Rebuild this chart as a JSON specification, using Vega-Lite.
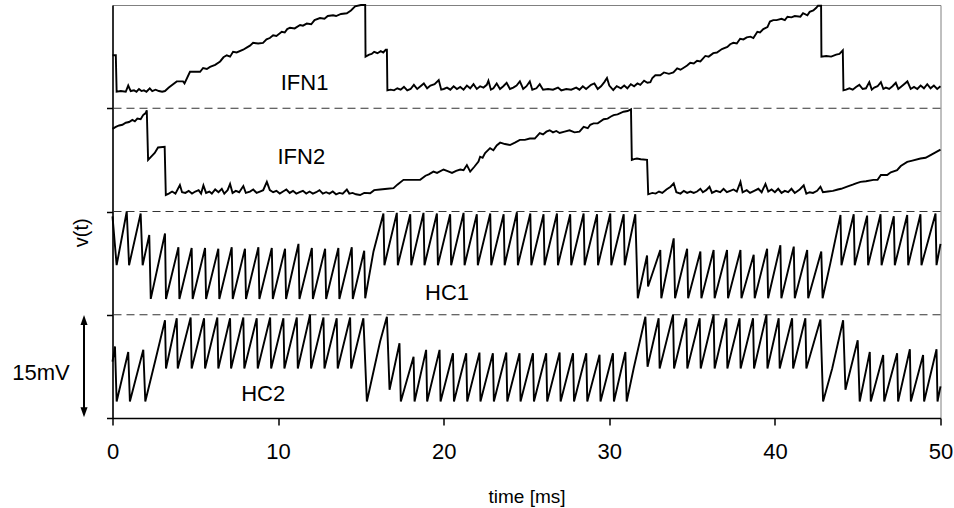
{
"$schema": "https://vega.github.io/schema/vega-lite/v6.json",
"width": 828, "height": 413,
"autosize": {"type": "none"},
"padding": {"left": 112.5, "top": 5, "right": 13.5, "bottom": 90},
"background": "white",
"config": {"view": {"stroke": "#808080", "strokeWidth": 1}, "font": "Liberation Sans"},
"datasets": {
"traces": [
{"s":"IFN1","t":0,"v":52.7},{"s":"IFN1","t":0.2,"v":52.7},{"s":"IFN1","t":0.25,"v":47.4},{"s":"IFN1","t":0.5,"v":47.5},{"s":"IFN1","t":0.8,"v":47.4},{"s":"IFN1","t":0.95,"v":48.3},{"s":"IFN1","t":1.1,"v":47.5},{"s":"IFN1","t":1.3,"v":47.6},{"s":"IFN1","t":1.45,"v":47.4},{"s":"IFN1","t":1.6,"v":47.8},{"s":"IFN1","t":1.75,"v":47.5},{"s":"IFN1","t":1.9,"v":47.6},{"s":"IFN1","t":2.05,"v":47.4},{"s":"IFN1","t":2.25,"v":47.9},{"s":"IFN1","t":2.4,"v":47.5},{"s":"IFN1","t":2.6,"v":47.7},{"s":"IFN1","t":2.8,"v":47.5},{"s":"IFN1","t":3.0,"v":47.4},{"s":"IFN1","t":3.17,"v":47.5},{"s":"IFN1","t":3.4,"v":48.0},{"s":"IFN1","t":3.88,"v":48.9},{"s":"IFN1","t":4.26,"v":48.9},{"s":"IFN1","t":4.35,"v":48.6},{"s":"IFN1","t":4.68,"v":50.3},{"s":"IFN1","t":5.29,"v":50.3},{"s":"IFN1","t":5.47,"v":50.85},{"s":"IFN1","t":5.7,"v":50.7},{"s":"IFN1","t":5.89,"v":51.0},{"s":"IFN1","t":6.2,"v":51.3},{"s":"IFN1","t":6.5,"v":51.8},{"s":"IFN1","t":6.7,"v":52.4},{"s":"IFN1","t":6.9,"v":52.7},{"s":"IFN1","t":7.1,"v":52.5},{"s":"IFN1","t":7.28,"v":53.2},{"s":"IFN1","t":7.5,"v":53.1},{"s":"IFN1","t":7.89,"v":53.5},{"s":"IFN1","t":8.1,"v":53.8},{"s":"IFN1","t":8.3,"v":54.1},{"s":"IFN1","t":8.49,"v":54.5},{"s":"IFN1","t":8.8,"v":54.4},{"s":"IFN1","t":9.09,"v":54.5},{"s":"IFN1","t":9.3,"v":55.0},{"s":"IFN1","t":9.5,"v":55.2},{"s":"IFN1","t":9.7,"v":55.6},{"s":"IFN1","t":9.9,"v":55.5},{"s":"IFN1","t":10.22,"v":56.1},{"s":"IFN1","t":10.4,"v":56.0},{"s":"IFN1","t":10.55,"v":56.5},{"s":"IFN1","t":10.72,"v":56.7},{"s":"IFN1","t":11.0,"v":56.6},{"s":"IFN1","t":11.33,"v":57.1},{"s":"IFN1","t":11.5,"v":57.0},{"s":"IFN1","t":11.73,"v":57.3},{"s":"IFN1","t":12.0,"v":57.2},{"s":"IFN1","t":12.2,"v":57.8},{"s":"IFN1","t":12.53,"v":58.1},{"s":"IFN1","t":12.8,"v":58.0},{"s":"IFN1","t":13.0,"v":58.4},{"s":"IFN1","t":13.32,"v":58.5},{"s":"IFN1","t":13.5,"v":58.4},{"s":"IFN1","t":13.8,"v":58.7},{"s":"IFN1","t":14.15,"v":58.8},{"s":"IFN1","t":14.4,"v":59.2},{"s":"IFN1","t":14.65,"v":59.8},{"s":"IFN1","t":15.0,"v":60.0},{"s":"IFN1","t":15.26,"v":60.0},{"s":"IFN1","t":15.28,"v":52.5},{"s":"IFN1","t":15.5,"v":52.8},{"s":"IFN1","t":15.65,"v":52.9},{"s":"IFN1","t":15.8,"v":53.2},{"s":"IFN1","t":16.0,"v":53.0},{"s":"IFN1","t":16.2,"v":53.3},{"s":"IFN1","t":16.35,"v":53.1},{"s":"IFN1","t":16.5,"v":53.5},{"s":"IFN1","t":16.57,"v":53.5},{"s":"IFN1","t":16.6,"v":47.6},{"s":"IFN1","t":16.8,"v":47.7},{"s":"IFN1","t":17.0,"v":47.6},{"s":"IFN1","t":17.2,"v":47.9},{"s":"IFN1","t":17.4,"v":47.7},{"s":"IFN1","t":17.6,"v":48.1},{"s":"IFN1","t":17.8,"v":47.6},{"s":"IFN1","t":18.0,"v":47.8},{"s":"IFN1","t":18.2,"v":48.4},{"s":"IFN1","t":18.4,"v":47.8},{"s":"IFN1","t":18.6,"v":48.2},{"s":"IFN1","t":18.8,"v":48.6},{"s":"IFN1","t":19.0,"v":47.9},{"s":"IFN1","t":19.2,"v":48.3},{"s":"IFN1","t":19.45,"v":48.5},{"s":"IFN1","t":19.7,"v":49.1},{"s":"IFN1","t":19.85,"v":47.7},{"s":"IFN1","t":20.0,"v":47.8},{"s":"IFN1","t":20.2,"v":48.0},{"s":"IFN1","t":20.4,"v":47.7},{"s":"IFN1","t":20.6,"v":48.2},{"s":"IFN1","t":20.8,"v":47.8},{"s":"IFN1","t":21.0,"v":48.1},{"s":"IFN1","t":21.2,"v":47.7},{"s":"IFN1","t":21.4,"v":48.3},{"s":"IFN1","t":21.6,"v":47.9},{"s":"IFN1","t":21.8,"v":48.5},{"s":"IFN1","t":22.0,"v":47.8},{"s":"IFN1","t":22.2,"v":48.2},{"s":"IFN1","t":22.4,"v":48.0},{"s":"IFN1","t":22.6,"v":48.4},{"s":"IFN1","t":22.7,"v":49.0},{"s":"IFN1","t":22.85,"v":47.7},{"s":"IFN1","t":23.0,"v":47.9},{"s":"IFN1","t":23.2,"v":48.6},{"s":"IFN1","t":23.4,"v":47.8},{"s":"IFN1","t":23.6,"v":48.2},{"s":"IFN1","t":23.8,"v":48.7},{"s":"IFN1","t":24.0,"v":47.8},{"s":"IFN1","t":24.2,"v":48.0},{"s":"IFN1","t":24.4,"v":48.3},{"s":"IFN1","t":24.6,"v":48.9},{"s":"IFN1","t":24.8,"v":47.8},{"s":"IFN1","t":25.0,"v":48.2},{"s":"IFN1","t":25.2,"v":48.9},{"s":"IFN1","t":25.35,"v":47.7},{"s":"IFN1","t":25.6,"v":47.9},{"s":"IFN1","t":25.8,"v":48.5},{"s":"IFN1","t":26.0,"v":47.7},{"s":"IFN1","t":26.3,"v":47.8},{"s":"IFN1","t":26.6,"v":47.7},{"s":"IFN1","t":26.9,"v":48.0},{"s":"IFN1","t":27.1,"v":47.6},{"s":"IFN1","t":27.4,"v":47.8},{"s":"IFN1","t":27.7,"v":47.7},{"s":"IFN1","t":28.0,"v":48.0},{"s":"IFN1","t":28.2,"v":47.7},{"s":"IFN1","t":28.4,"v":48.2},{"s":"IFN1","t":28.6,"v":47.8},{"s":"IFN1","t":28.9,"v":48.4},{"s":"IFN1","t":29.1,"v":48.6},{"s":"IFN1","t":29.3,"v":47.8},{"s":"IFN1","t":29.5,"v":48.2},{"s":"IFN1","t":29.7,"v":48.8},{"s":"IFN1","t":29.86,"v":49.4},{"s":"IFN1","t":30.0,"v":48.3},{"s":"IFN1","t":30.24,"v":47.65},{"s":"IFN1","t":30.45,"v":48.2},{"s":"IFN1","t":30.7,"v":47.9},{"s":"IFN1","t":30.9,"v":48.3},{"s":"IFN1","t":31.09,"v":47.9},{"s":"IFN1","t":31.3,"v":48.5},{"s":"IFN1","t":31.5,"v":48.2},{"s":"IFN1","t":31.7,"v":48.6},{"s":"IFN1","t":31.87,"v":48.4},{"s":"IFN1","t":32.1,"v":49.0},{"s":"IFN1","t":32.3,"v":48.7},{"s":"IFN1","t":32.48,"v":48.8},{"s":"IFN1","t":32.6,"v":49.4},{"s":"IFN1","t":32.78,"v":49.8},{"s":"IFN1","t":33.08,"v":49.8},{"s":"IFN1","t":33.3,"v":50.2},{"s":"IFN1","t":33.6,"v":50.0},{"s":"IFN1","t":33.87,"v":50.2},{"s":"IFN1","t":34.1,"v":50.8},{"s":"IFN1","t":34.3,"v":50.6},{"s":"IFN1","t":34.47,"v":50.85},{"s":"IFN1","t":34.7,"v":51.2},{"s":"IFN1","t":34.89,"v":51.6},{"s":"IFN1","t":35.1,"v":51.5},{"s":"IFN1","t":35.3,"v":51.9},{"s":"IFN1","t":35.5,"v":51.8},{"s":"IFN1","t":35.8,"v":52.6},{"s":"IFN1","t":36.0,"v":52.5},{"s":"IFN1","t":36.28,"v":53.0},{"s":"IFN1","t":36.5,"v":53.1},{"s":"IFN1","t":36.8,"v":53.6},{"s":"IFN1","t":37.13,"v":53.9},{"s":"IFN1","t":37.3,"v":54.3},{"s":"IFN1","t":37.49,"v":54.5},{"s":"IFN1","t":37.7,"v":54.4},{"s":"IFN1","t":37.9,"v":55.1},{"s":"IFN1","t":38.1,"v":55.0},{"s":"IFN1","t":38.3,"v":55.3},{"s":"IFN1","t":38.52,"v":55.4},{"s":"IFN1","t":38.7,"v":55.2},{"s":"IFN1","t":38.94,"v":56.1},{"s":"IFN1","t":39.1,"v":56.0},{"s":"IFN1","t":39.3,"v":56.5},{"s":"IFN1","t":39.55,"v":56.8},{"s":"IFN1","t":39.7,"v":57.6},{"s":"IFN1","t":39.9,"v":57.8},{"s":"IFN1","t":40.1,"v":57.8},{"s":"IFN1","t":40.4,"v":58.0},{"s":"IFN1","t":40.6,"v":57.8},{"s":"IFN1","t":40.76,"v":58.3},{"s":"IFN1","t":41.0,"v":58.2},{"s":"IFN1","t":41.2,"v":58.4},{"s":"IFN1","t":41.54,"v":58.3},{"s":"IFN1","t":41.7,"v":58.8},{"s":"IFN1","t":41.96,"v":58.5},{"s":"IFN1","t":42.1,"v":59.0},{"s":"IFN1","t":42.32,"v":59.2},{"s":"IFN1","t":42.5,"v":59.6},{"s":"IFN1","t":42.6,"v":59.9},{"s":"IFN1","t":42.79,"v":59.9},{"s":"IFN1","t":42.81,"v":52.5},{"s":"IFN1","t":43.1,"v":52.6},{"s":"IFN1","t":43.4,"v":52.5},{"s":"IFN1","t":43.7,"v":52.8},{"s":"IFN1","t":43.9,"v":52.9},{"s":"IFN1","t":44.1,"v":53.4},{"s":"IFN1","t":44.14,"v":47.6},{"s":"IFN1","t":44.3,"v":47.7},{"s":"IFN1","t":44.5,"v":47.9},{"s":"IFN1","t":44.7,"v":47.7},{"s":"IFN1","t":44.9,"v":48.1},{"s":"IFN1","t":45.1,"v":48.4},{"s":"IFN1","t":45.3,"v":47.8},{"s":"IFN1","t":45.5,"v":47.9},{"s":"IFN1","t":45.7,"v":48.8},{"s":"IFN1","t":45.85,"v":47.7},{"s":"IFN1","t":46.0,"v":48.0},{"s":"IFN1","t":46.2,"v":48.2},{"s":"IFN1","t":46.4,"v":48.8},{"s":"IFN1","t":46.55,"v":47.8},{"s":"IFN1","t":46.7,"v":48.0},{"s":"IFN1","t":46.9,"v":47.8},{"s":"IFN1","t":47.1,"v":48.2},{"s":"IFN1","t":47.3,"v":48.7},{"s":"IFN1","t":47.45,"v":47.8},{"s":"IFN1","t":47.6,"v":48.1},{"s":"IFN1","t":47.8,"v":48.5},{"s":"IFN1","t":48.0,"v":48.9},{"s":"IFN1","t":48.2,"v":47.8},{"s":"IFN1","t":48.4,"v":48.1},{"s":"IFN1","t":48.6,"v":47.8},{"s":"IFN1","t":48.8,"v":48.3},{"s":"IFN1","t":49.0,"v":47.9},{"s":"IFN1","t":49.2,"v":48.5},{"s":"IFN1","t":49.4,"v":47.9},{"s":"IFN1","t":49.6,"v":48.3},{"s":"IFN1","t":49.8,"v":47.8},{"s":"IFN1","t":50.0,"v":48.2},
{"s":"IFN2","t":0,"v":42.0},{"s":"IFN2","t":0.2,"v":42.3},{"s":"IFN2","t":0.4,"v":42.5},{"s":"IFN2","t":0.6,"v":42.6},{"s":"IFN2","t":0.8,"v":42.9},{"s":"IFN2","t":1.0,"v":43.0},{"s":"IFN2","t":1.2,"v":43.3},{"s":"IFN2","t":1.35,"v":43.1},{"s":"IFN2","t":1.5,"v":43.5},{"s":"IFN2","t":1.7,"v":43.4},{"s":"IFN2","t":1.85,"v":44.0},{"s":"IFN2","t":2.0,"v":44.3},{"s":"IFN2","t":2.07,"v":44.7},{"s":"IFN2","t":2.15,"v":37.5},{"s":"IFN2","t":2.35,"v":38.0},{"s":"IFN2","t":2.55,"v":38.5},{"s":"IFN2","t":2.75,"v":39.3},{"s":"IFN2","t":3.15,"v":39.4},{"s":"IFN2","t":3.22,"v":32.4},{"s":"IFN2","t":3.4,"v":32.6},{"s":"IFN2","t":3.6,"v":32.9},{"s":"IFN2","t":3.8,"v":32.6},{"s":"IFN2","t":4.07,"v":33.85},{"s":"IFN2","t":4.2,"v":32.8},{"s":"IFN2","t":4.4,"v":32.7},{"s":"IFN2","t":4.6,"v":33.0},{"s":"IFN2","t":4.8,"v":32.6},{"s":"IFN2","t":5.0,"v":32.9},{"s":"IFN2","t":5.2,"v":33.1},{"s":"IFN2","t":5.35,"v":32.6},{"s":"IFN2","t":5.49,"v":33.8},{"s":"IFN2","t":5.65,"v":32.7},{"s":"IFN2","t":5.85,"v":32.9},{"s":"IFN2","t":6.0,"v":32.6},{"s":"IFN2","t":6.2,"v":33.2},{"s":"IFN2","t":6.4,"v":32.8},{"s":"IFN2","t":6.6,"v":33.3},{"s":"IFN2","t":6.75,"v":32.6},{"s":"IFN2","t":6.95,"v":33.1},{"s":"IFN2","t":7.1,"v":34.0},{"s":"IFN2","t":7.25,"v":32.7},{"s":"IFN2","t":7.45,"v":33.0},{"s":"IFN2","t":7.65,"v":32.8},{"s":"IFN2","t":7.9,"v":33.7},{"s":"IFN2","t":8.05,"v":32.7},{"s":"IFN2","t":8.3,"v":32.9},{"s":"IFN2","t":8.5,"v":33.2},{"s":"IFN2","t":8.7,"v":32.7},{"s":"IFN2","t":8.9,"v":32.9},{"s":"IFN2","t":9.1,"v":33.1},{"s":"IFN2","t":9.32,"v":34.3},{"s":"IFN2","t":9.5,"v":33.1},{"s":"IFN2","t":9.7,"v":32.8},{"s":"IFN2","t":9.9,"v":33.0},{"s":"IFN2","t":10.1,"v":32.6},{"s":"IFN2","t":10.3,"v":32.9},{"s":"IFN2","t":10.5,"v":33.2},{"s":"IFN2","t":10.7,"v":32.7},{"s":"IFN2","t":10.9,"v":33.0},{"s":"IFN2","t":11.1,"v":32.6},{"s":"IFN2","t":11.3,"v":32.8},{"s":"IFN2","t":11.5,"v":33.0},{"s":"IFN2","t":11.7,"v":32.6},{"s":"IFN2","t":11.9,"v":32.9},{"s":"IFN2","t":12.1,"v":32.6},{"s":"IFN2","t":12.3,"v":32.8},{"s":"IFN2","t":12.5,"v":33.1},{"s":"IFN2","t":12.7,"v":32.6},{"s":"IFN2","t":12.9,"v":32.8},{"s":"IFN2","t":13.1,"v":32.6},{"s":"IFN2","t":13.3,"v":32.9},{"s":"IFN2","t":13.5,"v":32.5},{"s":"IFN2","t":13.7,"v":32.7},{"s":"IFN2","t":13.9,"v":32.6},{"s":"IFN2","t":14.15,"v":33.2},{"s":"IFN2","t":14.3,"v":32.6},{"s":"IFN2","t":14.5,"v":32.7},{"s":"IFN2","t":14.7,"v":32.5},{"s":"IFN2","t":14.95,"v":32.4},{"s":"IFN2","t":15.2,"v":32.7},{"s":"IFN2","t":15.56,"v":32.65},{"s":"IFN2","t":15.8,"v":33.1},{"s":"IFN2","t":16.16,"v":33.2},{"s":"IFN2","t":16.6,"v":33.3},{"s":"IFN2","t":16.97,"v":33.4},{"s":"IFN2","t":17.2,"v":33.9},{"s":"IFN2","t":17.57,"v":34.6},{"s":"IFN2","t":18.0,"v":34.6},{"s":"IFN2","t":18.58,"v":34.6},{"s":"IFN2","t":18.9,"v":35.2},{"s":"IFN2","t":19.1,"v":35.4},{"s":"IFN2","t":19.38,"v":35.8},{"s":"IFN2","t":19.6,"v":35.6},{"s":"IFN2","t":19.99,"v":36.1},{"s":"IFN2","t":20.2,"v":35.9},{"s":"IFN2","t":20.5,"v":35.6},{"s":"IFN2","t":20.75,"v":35.9},{"s":"IFN2","t":21.0,"v":36.1},{"s":"IFN2","t":21.2,"v":36.0},{"s":"IFN2","t":21.4,"v":36.75},{"s":"IFN2","t":21.6,"v":35.8},{"s":"IFN2","t":21.85,"v":36.5},{"s":"IFN2","t":22.1,"v":37.25},{"s":"IFN2","t":22.2,"v":37.96},{"s":"IFN2","t":22.35,"v":37.8},{"s":"IFN2","t":22.5,"v":38.5},{"s":"IFN2","t":22.8,"v":39.2},{"s":"IFN2","t":23.0,"v":38.9},{"s":"IFN2","t":23.2,"v":39.6},{"s":"IFN2","t":23.41,"v":40.0},{"s":"IFN2","t":23.7,"v":39.8},{"s":"IFN2","t":24.0,"v":39.66},{"s":"IFN2","t":24.3,"v":40.0},{"s":"IFN2","t":24.6,"v":40.4},{"s":"IFN2","t":24.9,"v":40.4},{"s":"IFN2","t":25.2,"v":40.6},{"s":"IFN2","t":25.5,"v":40.6},{"s":"IFN2","t":25.8,"v":41.4},{"s":"IFN2","t":26.0,"v":41.2},{"s":"IFN2","t":26.2,"v":41.6},{"s":"IFN2","t":26.4,"v":41.8},{"s":"IFN2","t":26.6,"v":41.5},{"s":"IFN2","t":26.8,"v":41.7},{"s":"IFN2","t":27.0,"v":41.4},{"s":"IFN2","t":27.3,"v":41.6},{"s":"IFN2","t":27.6,"v":41.8},{"s":"IFN2","t":27.9,"v":41.5},{"s":"IFN2","t":28.2,"v":41.6},{"s":"IFN2","t":28.45,"v":42.3},{"s":"IFN2","t":28.7,"v":42.1},{"s":"IFN2","t":28.85,"v":42.6},{"s":"IFN2","t":29.05,"v":42.8},{"s":"IFN2","t":29.3,"v":42.8},{"s":"IFN2","t":29.66,"v":43.4},{"s":"IFN2","t":29.9,"v":43.5},{"s":"IFN2","t":30.1,"v":43.8},{"s":"IFN2","t":30.26,"v":44.0},{"s":"IFN2","t":30.5,"v":44.1},{"s":"IFN2","t":30.86,"v":44.5},{"s":"IFN2","t":31.1,"v":44.6},{"s":"IFN2","t":31.31,"v":44.85},{"s":"IFN2","t":31.36,"v":37.5},{"s":"IFN2","t":31.5,"v":37.6},{"s":"IFN2","t":31.67,"v":37.7},{"s":"IFN2","t":31.9,"v":37.6},{"s":"IFN2","t":32.28,"v":37.5},{"s":"IFN2","t":32.35,"v":32.5},{"s":"IFN2","t":32.6,"v":32.7},{"s":"IFN2","t":32.8,"v":32.6},{"s":"IFN2","t":33.0,"v":32.9},{"s":"IFN2","t":33.2,"v":32.7},{"s":"IFN2","t":33.45,"v":33.2},{"s":"IFN2","t":33.7,"v":33.6},{"s":"IFN2","t":33.89,"v":34.1},{"s":"IFN2","t":34.05,"v":32.8},{"s":"IFN2","t":34.3,"v":32.6},{"s":"IFN2","t":34.5,"v":33.0},{"s":"IFN2","t":34.7,"v":32.7},{"s":"IFN2","t":34.9,"v":32.9},{"s":"IFN2","t":35.1,"v":32.7},{"s":"IFN2","t":35.3,"v":32.9},{"s":"IFN2","t":35.5,"v":33.3},{"s":"IFN2","t":35.65,"v":32.8},{"s":"IFN2","t":35.85,"v":33.1},{"s":"IFN2","t":36.05,"v":33.6},{"s":"IFN2","t":36.2,"v":32.7},{"s":"IFN2","t":36.45,"v":33.0},{"s":"IFN2","t":36.7,"v":32.8},{"s":"IFN2","t":36.9,"v":33.3},{"s":"IFN2","t":37.1,"v":32.8},{"s":"IFN2","t":37.3,"v":33.0},{"s":"IFN2","t":37.5,"v":33.2},{"s":"IFN2","t":37.7,"v":32.9},{"s":"IFN2","t":37.92,"v":34.3},{"s":"IFN2","t":38.05,"v":32.8},{"s":"IFN2","t":38.3,"v":33.1},{"s":"IFN2","t":38.5,"v":32.7},{"s":"IFN2","t":38.75,"v":33.0},{"s":"IFN2","t":39.0,"v":33.3},{"s":"IFN2","t":39.2,"v":32.8},{"s":"IFN2","t":39.43,"v":34.0},{"s":"IFN2","t":39.6,"v":32.9},{"s":"IFN2","t":39.8,"v":33.2},{"s":"IFN2","t":40.0,"v":32.8},{"s":"IFN2","t":40.2,"v":33.3},{"s":"IFN2","t":40.4,"v":32.7},{"s":"IFN2","t":40.6,"v":33.0},{"s":"IFN2","t":40.8,"v":32.8},{"s":"IFN2","t":41.0,"v":33.3},{"s":"IFN2","t":41.2,"v":32.7},{"s":"IFN2","t":41.5,"v":33.2},{"s":"IFN2","t":41.74,"v":33.8},{"s":"IFN2","t":41.9,"v":32.6},{"s":"IFN2","t":42.1,"v":32.8},{"s":"IFN2","t":42.3,"v":32.7},{"s":"IFN2","t":42.55,"v":33.0},{"s":"IFN2","t":42.75,"v":33.6},{"s":"IFN2","t":42.9,"v":32.8},{"s":"IFN2","t":43.2,"v":32.9},{"s":"IFN2","t":43.5,"v":33.0},{"s":"IFN2","t":43.8,"v":33.2},{"s":"IFN2","t":44.0,"v":33.3},{"s":"IFN2","t":44.36,"v":33.6},{"s":"IFN2","t":44.7,"v":33.9},{"s":"IFN2","t":44.9,"v":34.1},{"s":"IFN2","t":45.17,"v":34.3},{"s":"IFN2","t":45.5,"v":34.4},{"s":"IFN2","t":45.95,"v":34.6},{"s":"IFN2","t":46.2,"v":34.6},{"s":"IFN2","t":46.4,"v":35.3},{"s":"IFN2","t":46.78,"v":35.3},{"s":"IFN2","t":47.0,"v":35.7},{"s":"IFN2","t":47.38,"v":36.0},{"s":"IFN2","t":47.6,"v":36.6},{"s":"IFN2","t":47.99,"v":37.2},{"s":"IFN2","t":48.3,"v":37.4},{"s":"IFN2","t":48.79,"v":37.7},{"s":"IFN2","t":49.1,"v":37.8},{"s":"IFN2","t":49.4,"v":38.2},{"s":"IFN2","t":49.7,"v":38.6},{"s":"IFN2","t":50.0,"v":39.0},
{"s":"HC1","t":0,"v":29.3},{"s":"HC1","t":0.25,"v":22.2},{"s":"HC1","t":0.86,"v":30.0},{"s":"HC1","t":1.0,"v":22.2},{"s":"HC1","t":1.7,"v":29.7},{"s":"HC1","t":1.82,"v":22.2},{"s":"HC1","t":2.22,"v":26.6},{"s":"HC1","t":2.31,"v":17.3},{"s":"HC1","t":3.17,"v":26.8},{"s":"HC1","t":3.23,"v":17.3},{"s":"HC1","t":3.98,"v":24.8},{"s":"HC1","t":4.04,"v":17.3},{"s":"HC1","t":4.78,"v":24.7},{"s":"HC1","t":4.84,"v":17.3},{"s":"HC1","t":5.59,"v":24.7},{"s":"HC1","t":5.65,"v":17.3},{"s":"HC1","t":6.39,"v":24.6},{"s":"HC1","t":6.45,"v":17.3},{"s":"HC1","t":7.2,"v":24.8},{"s":"HC1","t":7.26,"v":17.3},{"s":"HC1","t":8.0,"v":24.6},{"s":"HC1","t":8.06,"v":17.3},{"s":"HC1","t":8.81,"v":24.8},{"s":"HC1","t":8.87,"v":17.3},{"s":"HC1","t":9.62,"v":24.7},{"s":"HC1","t":9.68,"v":17.3},{"s":"HC1","t":10.42,"v":24.6},{"s":"HC1","t":10.48,"v":17.3},{"s":"HC1","t":11.23,"v":25.3},{"s":"HC1","t":11.29,"v":17.3},{"s":"HC1","t":12.04,"v":24.7},{"s":"HC1","t":12.1,"v":17.3},{"s":"HC1","t":12.84,"v":24.6},{"s":"HC1","t":12.9,"v":17.3},{"s":"HC1","t":13.64,"v":24.7},{"s":"HC1","t":13.7,"v":17.3},{"s":"HC1","t":14.45,"v":24.8},{"s":"HC1","t":14.51,"v":17.3},{"s":"HC1","t":15.2,"v":24.3},{"s":"HC1","t":15.26,"v":17.4},{"s":"HC1","t":15.76,"v":24.2},{"s":"HC1","t":16.36,"v":29.7},{"s":"HC1","t":16.42,"v":22.2},{"s":"HC1","t":17.17,"v":29.8},{"s":"HC1","t":17.23,"v":22.2},{"s":"HC1","t":17.98,"v":29.6},{"s":"HC1","t":18.04,"v":22.2},{"s":"HC1","t":18.78,"v":29.8},{"s":"HC1","t":18.84,"v":22.2},{"s":"HC1","t":19.59,"v":29.7},{"s":"HC1","t":19.65,"v":22.2},{"s":"HC1","t":20.39,"v":29.6},{"s":"HC1","t":20.45,"v":22.2},{"s":"HC1","t":21.2,"v":29.8},{"s":"HC1","t":21.26,"v":22.2},{"s":"HC1","t":22.0,"v":29.6},{"s":"HC1","t":22.06,"v":22.2},{"s":"HC1","t":22.81,"v":29.7},{"s":"HC1","t":22.87,"v":22.2},{"s":"HC1","t":23.62,"v":29.6},{"s":"HC1","t":23.68,"v":22.2},{"s":"HC1","t":24.42,"v":29.9},{"s":"HC1","t":24.48,"v":22.2},{"s":"HC1","t":25.23,"v":29.7},{"s":"HC1","t":25.29,"v":22.2},{"s":"HC1","t":26.03,"v":29.6},{"s":"HC1","t":26.09,"v":22.2},{"s":"HC1","t":26.84,"v":29.7},{"s":"HC1","t":26.9,"v":22.2},{"s":"HC1","t":27.64,"v":29.6},{"s":"HC1","t":27.7,"v":22.2},{"s":"HC1","t":28.45,"v":29.7},{"s":"HC1","t":28.51,"v":22.2},{"s":"HC1","t":29.26,"v":29.6},{"s":"HC1","t":29.32,"v":22.2},{"s":"HC1","t":30.06,"v":29.7},{"s":"HC1","t":30.12,"v":22.2},{"s":"HC1","t":30.87,"v":29.6},{"s":"HC1","t":30.93,"v":22.2},{"s":"HC1","t":31.57,"v":29.6},{"s":"HC1","t":31.72,"v":17.4},{"s":"HC1","t":32.28,"v":23.6},{"s":"HC1","t":32.34,"v":19.1},{"s":"HC1","t":33.08,"v":24.4},{"s":"HC1","t":33.14,"v":17.4},{"s":"HC1","t":33.89,"v":26.1},{"s":"HC1","t":33.97,"v":17.4},{"s":"HC1","t":34.7,"v":24.6},{"s":"HC1","t":34.76,"v":17.4},{"s":"HC1","t":35.5,"v":24.2},{"s":"HC1","t":35.56,"v":17.4},{"s":"HC1","t":36.3,"v":24.4},{"s":"HC1","t":36.36,"v":17.4},{"s":"HC1","t":37.11,"v":24.4},{"s":"HC1","t":37.17,"v":17.4},{"s":"HC1","t":37.92,"v":24.4},{"s":"HC1","t":37.98,"v":17.4},{"s":"HC1","t":38.72,"v":23.7},{"s":"HC1","t":38.78,"v":17.4},{"s":"HC1","t":39.53,"v":24.6},{"s":"HC1","t":39.59,"v":17.4},{"s":"HC1","t":40.33,"v":25.1},{"s":"HC1","t":40.39,"v":17.4},{"s":"HC1","t":41.14,"v":24.9},{"s":"HC1","t":41.2,"v":17.4},{"s":"HC1","t":41.95,"v":24.4},{"s":"HC1","t":42.01,"v":17.4},{"s":"HC1","t":42.8,"v":24.2},{"s":"HC1","t":42.88,"v":17.4},{"s":"HC1","t":43.35,"v":22.5},{"s":"HC1","t":43.96,"v":29.5},{"s":"HC1","t":44.02,"v":22.2},{"s":"HC1","t":44.76,"v":29.6},{"s":"HC1","t":44.82,"v":22.2},{"s":"HC1","t":45.57,"v":29.4},{"s":"HC1","t":45.63,"v":22.2},{"s":"HC1","t":46.38,"v":29.6},{"s":"HC1","t":46.44,"v":22.2},{"s":"HC1","t":47.18,"v":29.3},{"s":"HC1","t":47.24,"v":22.2},{"s":"HC1","t":47.99,"v":29.5},{"s":"HC1","t":48.05,"v":22.2},{"s":"HC1","t":48.79,"v":29.6},{"s":"HC1","t":48.85,"v":22.2},{"s":"HC1","t":49.7,"v":29.7},{"s":"HC1","t":49.76,"v":22.2},{"s":"HC1","t":50.0,"v":25.3},
{"s":"HC2","t":0,"v":8.2},{"s":"HC2","t":0.15,"v":10.4},{"s":"HC2","t":0.25,"v":2.4},{"s":"HC2","t":0.95,"v":9.6},{"s":"HC2","t":1.05,"v":2.4},{"s":"HC2","t":1.86,"v":9.9},{"s":"HC2","t":1.98,"v":2.4},{"s":"HC2","t":2.57,"v":8.2},{"s":"HC2","t":3.17,"v":14.2},{"s":"HC2","t":3.23,"v":7.2},{"s":"HC2","t":3.88,"v":14.5},{"s":"HC2","t":3.94,"v":7.2},{"s":"HC2","t":4.72,"v":14.6},{"s":"HC2","t":4.78,"v":7.2},{"s":"HC2","t":5.53,"v":14.5},{"s":"HC2","t":5.59,"v":7.2},{"s":"HC2","t":6.33,"v":14.6},{"s":"HC2","t":6.39,"v":7.2},{"s":"HC2","t":7.1,"v":14.5},{"s":"HC2","t":7.16,"v":7.2},{"s":"HC2","t":7.9,"v":14.6},{"s":"HC2","t":7.96,"v":7.2},{"s":"HC2","t":8.71,"v":14.5},{"s":"HC2","t":8.77,"v":7.2},{"s":"HC2","t":9.52,"v":14.6},{"s":"HC2","t":9.58,"v":7.2},{"s":"HC2","t":10.32,"v":14.5},{"s":"HC2","t":10.38,"v":7.2},{"s":"HC2","t":11.13,"v":14.6},{"s":"HC2","t":11.19,"v":7.2},{"s":"HC2","t":11.93,"v":15.0},{"s":"HC2","t":11.99,"v":7.2},{"s":"HC2","t":12.74,"v":14.6},{"s":"HC2","t":12.8,"v":7.2},{"s":"HC2","t":13.54,"v":14.5},{"s":"HC2","t":13.6,"v":7.2},{"s":"HC2","t":14.35,"v":14.6},{"s":"HC2","t":14.41,"v":7.2},{"s":"HC2","t":15.15,"v":14.5},{"s":"HC2","t":15.36,"v":2.4},{"s":"HC2","t":16.16,"v":11.1},{"s":"HC2","t":16.57,"v":14.7},{"s":"HC2","t":16.73,"v":4.1},{"s":"HC2","t":17.33,"v":10.85},{"s":"HC2","t":17.41,"v":2.4},{"s":"HC2","t":18.18,"v":8.9},{"s":"HC2","t":18.24,"v":2.4},{"s":"HC2","t":18.94,"v":9.9},{"s":"HC2","t":19.0,"v":2.4},{"s":"HC2","t":19.75,"v":9.9},{"s":"HC2","t":19.81,"v":2.4},{"s":"HC2","t":20.56,"v":9.4},{"s":"HC2","t":20.62,"v":2.4},{"s":"HC2","t":21.36,"v":9.4},{"s":"HC2","t":21.42,"v":2.4},{"s":"HC2","t":22.16,"v":9.5},{"s":"HC2","t":22.22,"v":2.4},{"s":"HC2","t":22.97,"v":9.4},{"s":"HC2","t":23.03,"v":2.4},{"s":"HC2","t":23.78,"v":9.5},{"s":"HC2","t":23.84,"v":2.4},{"s":"HC2","t":24.58,"v":9.4},{"s":"HC2","t":24.64,"v":2.4},{"s":"HC2","t":25.39,"v":9.4},{"s":"HC2","t":25.45,"v":2.4},{"s":"HC2","t":26.19,"v":9.4},{"s":"HC2","t":26.25,"v":2.4},{"s":"HC2","t":27.0,"v":9.5},{"s":"HC2","t":27.06,"v":2.4},{"s":"HC2","t":27.81,"v":9.4},{"s":"HC2","t":27.87,"v":2.4},{"s":"HC2","t":28.61,"v":9.4},{"s":"HC2","t":28.67,"v":2.4},{"s":"HC2","t":29.41,"v":9.2},{"s":"HC2","t":29.47,"v":2.4},{"s":"HC2","t":30.22,"v":9.4},{"s":"HC2","t":30.28,"v":2.4},{"s":"HC2","t":30.97,"v":9.6},{"s":"HC2","t":31.05,"v":2.4},{"s":"HC2","t":31.47,"v":7.2},{"s":"HC2","t":32.18,"v":14.7},{"s":"HC2","t":32.31,"v":7.45},{"s":"HC2","t":32.98,"v":14.5},{"s":"HC2","t":33.04,"v":7.2},{"s":"HC2","t":33.85,"v":15.0},{"s":"HC2","t":33.91,"v":7.2},{"s":"HC2","t":34.65,"v":14.5},{"s":"HC2","t":34.71,"v":7.2},{"s":"HC2","t":35.46,"v":14.5},{"s":"HC2","t":35.52,"v":7.2},{"s":"HC2","t":36.3,"v":15.0},{"s":"HC2","t":36.36,"v":7.2},{"s":"HC2","t":37.07,"v":14.5},{"s":"HC2","t":37.13,"v":7.2},{"s":"HC2","t":37.87,"v":14.5},{"s":"HC2","t":37.93,"v":7.2},{"s":"HC2","t":38.68,"v":14.5},{"s":"HC2","t":38.74,"v":7.2},{"s":"HC2","t":39.49,"v":15.0},{"s":"HC2","t":39.55,"v":7.2},{"s":"HC2","t":40.23,"v":14.5},{"s":"HC2","t":40.29,"v":7.2},{"s":"HC2","t":41.04,"v":14.5},{"s":"HC2","t":41.1,"v":7.2},{"s":"HC2","t":41.84,"v":14.5},{"s":"HC2","t":41.9,"v":7.2},{"s":"HC2","t":42.75,"v":14.3},{"s":"HC2","t":42.91,"v":2.4},{"s":"HC2","t":43.46,"v":7.2},{"s":"HC2","t":44.12,"v":14.2},{"s":"HC2","t":44.26,"v":4.1},{"s":"HC2","t":45.0,"v":11.3},{"s":"HC2","t":45.12,"v":2.4},{"s":"HC2","t":45.73,"v":9.6},{"s":"HC2","t":45.79,"v":2.4},{"s":"HC2","t":46.54,"v":9.15},{"s":"HC2","t":46.6,"v":2.4},{"s":"HC2","t":47.38,"v":9.4},{"s":"HC2","t":47.44,"v":2.4},{"s":"HC2","t":48.15,"v":10.0},{"s":"HC2","t":48.21,"v":2.4},{"s":"HC2","t":48.95,"v":9.15},{"s":"HC2","t":49.01,"v":2.4},{"s":"HC2","t":49.76,"v":10.0},{"s":"HC2","t":49.82,"v":2.4},{"s":"HC2","t":50.0,"v":4.6}
],
"labels": [
{"label":"IFN1","t":11.6,"v":48.7},{"label":"IFN2","t":11.4,"v":37.9},{"label":"HC1","t":20.2,"v":18.2},{"label":"HC2","t":9.1,"v":3.5}
],
"seps": [{"v":15},{"v":30},{"v":45}],
"scalebar": [{"t":-1.72,"v":0.83,"v2":14.24}],
"arrowheads": [{"t":-1.72,"v":14.24,"end":"top"},{"t":-1.72,"v":0.83,"end":"bottom"}],
"scaletext": [{"text":"15mV","t":-4.32,"v":6.54}],
"ytitle": [{"text":"v(t)","t":-1.84,"v":26.9}]
},
"layer": [
{"data":{"name":"seps"},"mark":{"type":"rule","strokeDash":[8,5],"color":"#333333","strokeWidth":1},
 "encoding":{"y":{"field":"v","type":"quantitative","scale":{"domain":[0,60],"nice":false,"zero":false}}}},
{"data":{"name":"traces"},"mark":{"type":"line","color":"black","strokeWidth":1.9,"strokeJoin":"miter"},
 "encoding":{
  "x":{"field":"t","type":"quantitative","scale":{"domain":[0,50],"nice":false,"zero":false},
   "axis":{"values":[0,10,20,30,40,50],"tickSize":7,"tickWidth":1.5,"tickColor":"black","domainColor":"black","domainWidth":1.5,"labelPadding":16,"labelFontSize":22,"labelFont":"Liberation Sans","labelColor":"black","labelFlush":false,"grid":false,"title":"time [ms]","titleFont":"Liberation Sans","titleFontSize":19,"titleFontWeight":"normal","titleColor":"black","titlePadding":25}},
  "y":{"field":"v","type":"quantitative","scale":{"domain":[0,60],"nice":false,"zero":false},
   "axis":{"values":[0,15,30,45],"tickSize":6,"tickWidth":1.5,"tickColor":"black","domainColor":"black","domainWidth":1.5,"labels":false,"grid":false,"title":null}},
  "detail":{"field":"s","type":"nominal"}}},
{"data":{"name":"labels"},"mark":{"type":"text","fontSize":22,"font":"Liberation Sans","color":"black"},
 "encoding":{"x":{"field":"t","type":"quantitative","scale":{"domain":[0,50],"nice":false,"zero":false}},
  "y":{"field":"v","type":"quantitative","scale":{"domain":[0,60],"nice":false,"zero":false}},
  "text":{"field":"label"}}},
{"data":{"name":"scalebar"},"mark":{"type":"rule","color":"black","strokeWidth":2},
 "encoding":{"x":{"field":"t","type":"quantitative","scale":{"domain":[0,50],"nice":false,"zero":false}},
  "y":{"field":"v","type":"quantitative","scale":{"domain":[0,60],"nice":false,"zero":false}},
  "y2":{"field":"v2"}}},
{"data":{"name":"arrowheads"},"mark":{"type":"point","filled":true,"color":"black","opacity":1,"size":200,"strokeWidth":0},
 "encoding":{"x":{"field":"t","type":"quantitative","scale":{"domain":[0,50],"nice":false,"zero":false}},
  "y":{"field":"v","type":"quantitative","scale":{"domain":[0,60],"nice":false,"zero":false}},
  "shape":{"field":"end","type":"nominal","scale":{"domain":["top","bottom"],"range":["M-0.5,0.7L0,-0.7L0.5,0.7Z","M-0.5,-0.7L0,0.7L0.5,-0.7Z"]},"legend":null}}},
{"data":{"name":"scaletext"},"mark":{"type":"text","fontSize":22,"font":"Liberation Sans","color":"black"},
 "encoding":{"x":{"field":"t","type":"quantitative","scale":{"domain":[0,50],"nice":false,"zero":false}},
  "y":{"field":"v","type":"quantitative","scale":{"domain":[0,60],"nice":false,"zero":false}},
  "text":{"field":"text"}}},
{"data":{"name":"ytitle"},"mark":{"type":"text","fontSize":20,"font":"Liberation Sans","color":"black","angle":270},
 "encoding":{"x":{"field":"t","type":"quantitative","scale":{"domain":[0,50],"nice":false,"zero":false}},
  "y":{"field":"v","type":"quantitative","scale":{"domain":[0,60],"nice":false,"zero":false}},
  "text":{"field":"text"}}}
]
}
